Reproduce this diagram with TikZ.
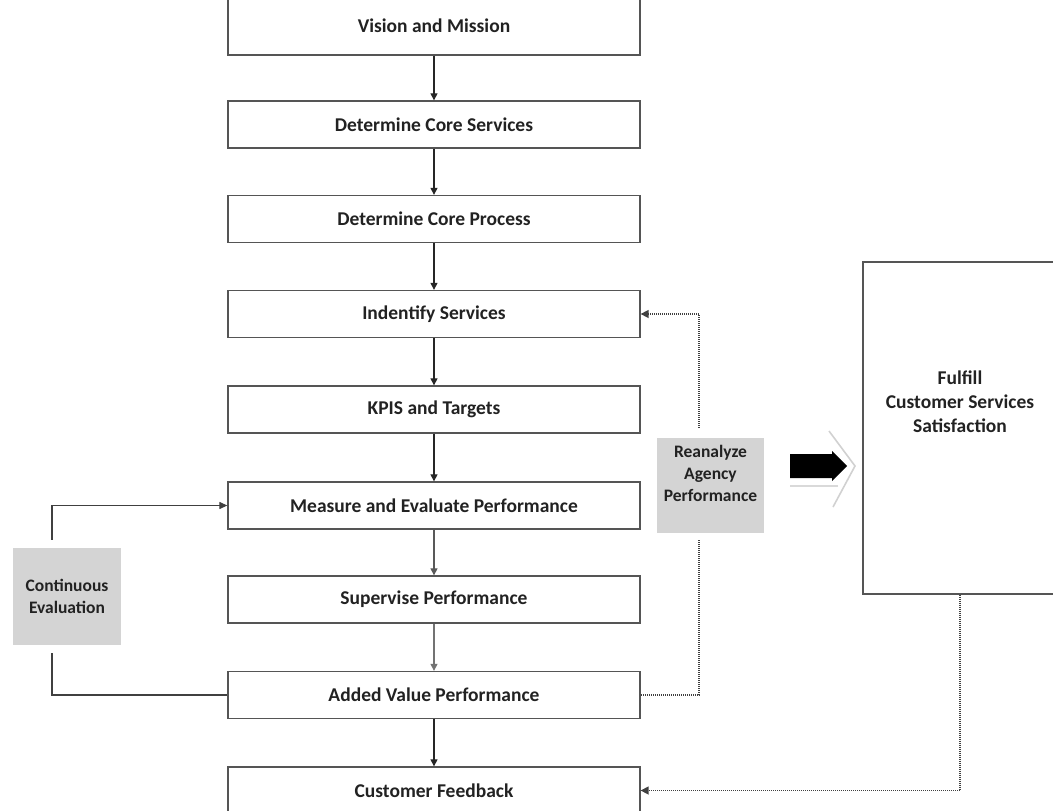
\documentclass[tikz,border=0pt]{standalone}
\usepackage{fontspec}
\setmainfont{Carlito}
\usetikzlibrary{arrows.meta}
\definecolor{edge}{HTML}{555555}
\definecolor{ink}{HTML}{222222}
\definecolor{panel}{HTML}{D4D4D4}
\begin{document}
\begin{tikzpicture}[x=1pt,y=-1pt,
  stepbox/.style={draw=edge,line width=1.3pt,fill=white,minimum width=412pt,minimum height=47pt,
    inner sep=0pt,font=\fontsize{19.5}{22}\selectfont\bfseries,text=ink},
  notebox/.style={fill=panel,inner sep=0pt,align=center,
    font=\fontsize{17.5}{23}\selectfont\bfseries,text=ink},
  flow/.style={draw=black!85,line width=1.1pt,-{Triangle[length=7pt,width=7pt]}},
  loop/.style={draw=black!75,line width=1.2pt},
  dots/.style={draw=black!75,line width=1.5pt,dash pattern=on 1.1pt off 0.9pt},
  tip/.style={-{Triangle[length=8pt,width=8pt]}}]
\useasboundingbox (0,0) rectangle (1053,811);
\clip (0,0) rectangle (1053,811);

% main process chain
\node[stepbox,minimum height=58pt] (vm) at (434,26) {Vision and Mission};
\node[stepbox] (cs) at (434,124.5) {Determine Core Services};
\node[stepbox] (cp) at (434,219) {Determine Core Process};
\node[stepbox] (is) at (434,314) {Indentify Services};
\node[stepbox] (kp) at (434,409.5) {KPIS and Targets};
\node[stepbox] (me) at (434,505.5) {Measure and Evaluate Performance};
\node[stepbox] (sp) at (434,599.5) {Supervise Performance};
\node[stepbox] (av) at (434,695) {Added Value Performance};
\node[stepbox] (cf) at (434,790.5) {Customer Feedback};

\draw[flow] (vm) -- (cs);
\draw[flow] (cs) -- (cp);
\draw[flow] (cp) -- (is);
\draw[flow] (is) -- (kp);
\draw[flow] (kp) -- (me);
\draw[flow,draw=black!65] (me) -- (sp);
\draw[flow,draw=black!55] (sp) -- (av);
\draw[flow] (av) -- (cf);

% continuous evaluation loop on the left
\node[notebox,minimum width=108pt,minimum height=97pt] (ce) at (67,596.5)
  {Continuous\\[-1pt]Evaluation};
\draw[loop,-{Triangle[length=8pt,width=7pt]},shorten <=8pt] ([xshift=-15pt]ce.north) |- (me.west);
\draw[loop,shorten <=8pt] ([xshift=-15pt]ce.south) |- (av.west);

% reanalysis feedback on the right
\node[notebox,minimum width=107pt,minimum height=95pt] (ra) at (710.5,485.5)
  {Reanalyze\\[-1pt]Agency\\[-1pt]Performance\\[2pt]};
\draw[dots,tip,shorten <=10pt] ([xshift=-11.5pt]ra.north) |- (is.east);
\draw[dots,shorten <=7pt] ([xshift=-11.5pt]ra.south) |- (av.east);

% outcome box and its feedback
\node[draw=edge,line width=1.3pt,minimum width=194pt,minimum height=332pt,inner sep=0pt] (ff) at (960,428) {};
\node[align=center,font=\fontsize{19.5}{25}\selectfont\bfseries,text=ink] (fftext) at (960,402)
  {Fulfill\\[-1pt]Customer Services\\[-1pt]Satisfaction};
\draw[dots,tip] (ff.south) |- (cf.east);

% block arrow with its light shadow
\draw[black!18,line width=1.6pt] (829,431) -- (855,466) -- (833,507);
\draw[black!15,line width=1.4pt] (790,486) -- (838,486);
\fill[black] (790,454) -- (832,454) -- (832,451) -- (847,466) -- (832,481) -- (832,478) -- (790,478) -- cycle;
\end{tikzpicture}
\end{document}
